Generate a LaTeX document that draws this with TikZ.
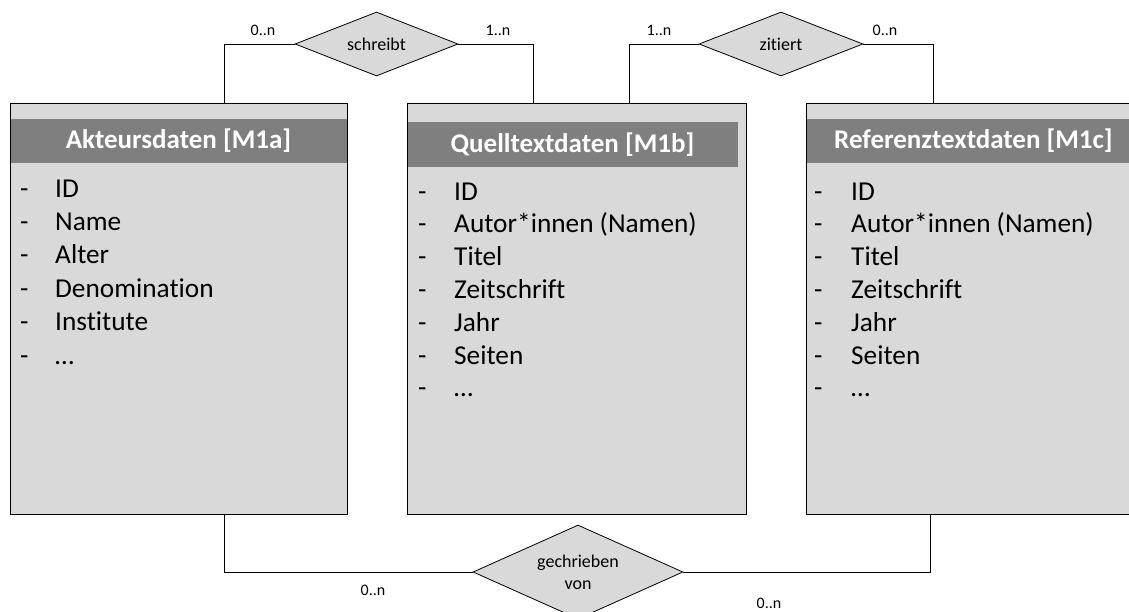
\documentclass[tikz,border=0pt]{standalone}
\usepackage{fontspec}
\setmainfont[Ligatures={NoCommon}]{Carlito}
\usetikzlibrary{shapes.geometric}
\definecolor{boxgray}{HTML}{D9D9D9}
\definecolor{headgray}{HTML}{7F7F7F}
\begin{document}
\begin{tikzpicture}[x=1pt,y=-1pt,
  entity/.style={draw=black,line width=0.8pt,fill=boxgray,rectangle,inner sep=0pt},
  headband/.style={fill=headgray,rectangle,inner sep=0pt,text=white,font=\fontsize{27}{30}\selectfont\bfseries},
  rel/.style={draw=black,line width=0.8pt,fill=boxgray,diamond,inner sep=0pt,align=center,font=\fontsize{18}{22}\selectfont},
  card/.style={font=\fontsize{16}{19}\selectfont,inner sep=0pt},
  item/.style={font=\fontsize{27.3}{31}\selectfont,inner sep=0pt,anchor=base west},
  conn/.style={draw=black,line width=0.8pt}]
\useasboundingbox (0,0) rectangle (1129,611);
\begin{scope}
\clip (0,0) rectangle (1129,611);
% entities
\node[entity,minimum width=337pt,minimum height=411pt] (A) at (178.5,308.5) {};
\node[entity,minimum width=339pt,minimum height=411pt] (B) at (576.5,308.5) {};
\node[entity,minimum width=334pt,minimum height=411pt] (C) at (973,308.5) {};
\node[headband,minimum width=336pt,minimum height=44pt] (Ah) at (178.5,141) {Akteursdaten [M1a]};
\node[headband,minimum width=330pt,minimum height=45pt] (Bh) at (572.5,144.5) {Quelltextdaten [M1b]};
\node[headband,minimum width=334pt,minimum height=44pt] (Ch) at (973.5,141) {Referenztextdaten [M1c]};
% items
\foreach \t [count=\i] in {ID,Name,Alter,Denomination,Institute,\dots}{
  \node[item] (Ad\i) at (20,197+33.4*\i-33.4) {-};
  \node[item] (At\i) at (55,197+33.4*\i-33.4) {\t};
}
\foreach \t [count=\i] in {ID,Autor*innen (Namen),Titel,Zeitschrift,Jahr,Seiten,\dots}{
  \node[item] (Bd\i) at (418,200+32.8*\i-32.8) {-};
  \node[item] (Bt\i) at (454,200+32.8*\i-32.8) {\t};
  \node[item] (Cd\i) at (814,200+32.8*\i-32.8) {-};
  \node[item] (Ct\i) at (851,200+32.8*\i-32.8) {\t};
}
% relationships
\node[rel,aspect=2.55,minimum width=163pt,minimum height=64pt] (s) at (376.5,44) {schreibt};
\node[rel,aspect=2.55,minimum width=164pt,minimum height=64pt] (z) at (781,44) {zitiert};
\node[rel,aspect=2.23,minimum width=210pt,minimum height=94pt] (g) at (578,572) {gechrieben\\von};
% connector endpoints
\coordinate (a1) at (224,103);
\coordinate (b1) at (533,103);
\coordinate (b2) at (629,103);
\coordinate (c1) at (933,103);
\coordinate (a2) at (224,514);
\coordinate (c2) at (930,514);
\draw[conn] (s.west) -| (a1);
\draw[conn] (s.east) -| (b1);
\draw[conn] (z.west) -| (b2);
\draw[conn] (z.east) -| (c1);
\draw[conn] (g.west) -| (a2);
\draw[conn] (g.east) -| (c2);
% cardinalities
\node[card] (k1) at (263,30) {0..n};
\node[card] (k2) at (498,30) {1..n};
\node[card] (k3) at (659,30) {1..n};
\node[card] (k4) at (885,30) {0..n};
\node[card] (k5) at (373,590) {0..n};
\node[card] (k6) at (769,603) {0..n};
\end{scope}
\end{tikzpicture}
\end{document}
